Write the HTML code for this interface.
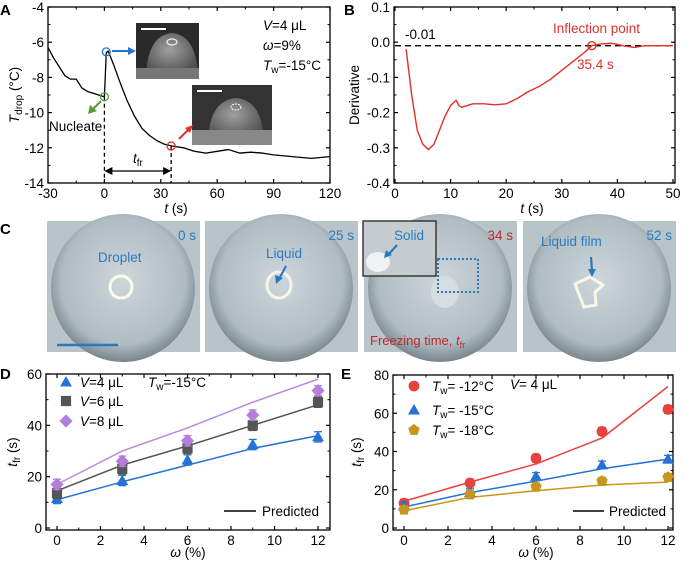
<!DOCTYPE html>
<html><head><meta charset="utf-8"><style>
body{margin:0;background:#fff;}
svg{display:block;font-family:"Liberation Sans",Arial,sans-serif;}
</style></head><body>
<svg id="fig" width="685" height="561" viewBox="0 0 685 561" xmlns="http://www.w3.org/2000/svg">
<defs>
<radialGradient id="drop" cx="50%" cy="45%" r="55%"><stop offset="0" stop-color="#cdd6db"/><stop offset="0.78" stop-color="#b0bcc3"/><stop offset="0.93" stop-color="#8a979e"/><stop offset="1" stop-color="#7a868c"/></radialGradient>
<radialGradient id="dome" cx="45%" cy="40%" r="60%"><stop offset="0" stop-color="#a0a0a0"/><stop offset="1" stop-color="#505050"/></radialGradient>
</defs>
<g id="layer"></g>
</svg>
<script>
// ---------- DATA ----------
const aTime=[-30,-27,-24,-21,-18,-15,-12,-9,-6,-3,0,1,2,5,8,12,16,20,24,28,32,36,42,48,54,60,66,72,78,84,90,100,110,120];
const aTemp=[-6.3,-6.9,-7.4,-7.9,-8.1,-8.1,-8.6,-8.8,-8.9,-9.0,-9.1,-6.6,-6.5,-7.3,-8.2,-9.3,-10.2,-10.9,-11.3,-11.6,-11.8,-11.9,-12.0,-12.2,-12.3,-12.2,-12.1,-12.3,-12.25,-12.3,-12.4,-12.5,-12.6,-12.5];
const aXTicks=[-30,0,30,60,90,120];
const aYTicks=[-4,-6,-8,-10,-12,-14];
const bTime=[2,3,4,5,6,7,8,9,10,11,11.5,12,14,16,18,20,22,24,26,28,30,32,34,35.4,37,39,41,43,45,50];
const bDeriv=[-0.02,-0.15,-0.25,-0.29,-0.305,-0.29,-0.25,-0.21,-0.18,-0.165,-0.18,-0.185,-0.175,-0.175,-0.178,-0.175,-0.16,-0.14,-0.125,-0.105,-0.08,-0.055,-0.03,-0.01,-0.005,-0.003,-0.01,-0.015,-0.01,-0.01];
const bXTicks=[0,10,20,30,40,50];
const bYTicks=[0.1,0.0,-0.1,-0.2,-0.3,-0.4];
const omega=[0,3,6,9,12];
const dV4=[11.5,18.5,26.5,32.5,35.5], dV4p=[11,18,24.5,31,36];
const dV6=[13.5,23,31,40,49], dV6p=[14.5,24.5,32,40,48];
const dV8=[17,26,34,44,53.5], dV8p=[17,30,39,49,58];
const eT12=[13,23.5,36.5,50.5,62], eT12p=[14,24,33.5,47,74];
const eT15=[11.5,18.5,27,33,36], eT15p=[11,18.5,24.5,31,36];
const eT18=[9.5,17.5,21.5,24.5,26.5], eT18p=[9,16,19.5,22.5,24];
const dYTicks=[0,20,40,60];
const eYTicks=[0,20,40,60,80];
const oTicks=[0,2,4,6,8,10,12];

// ---------- HELPERS ----------
const NS="http://www.w3.org/2000/svg";
const L=document.getElementById('layer');
function el(tag,attrs,parent,txt){const e=document.createElementNS(NS,tag);for(const k in attrs)e.setAttribute(k,attrs[k]);if(txt!==undefined)e.textContent=txt;(parent||L).appendChild(e);return e;}
function lin(d0,d1,p0,p1){return v=>p0+(v-d0)/(d1-d0)*(p1-p0);}
function frame(x0,y0,x1,y1,name){const r=el('rect',{x:x0,y:y0,width:x1-x0,height:y1-y0,fill:'none',stroke:'#000','stroke-width':1.3});

}
function xAxis(ticks,sx,yb,yt,name,minorStep){const g=el('g',{});


ticks.forEach(t=>{const x=sx(t);el('line',{x1:x,x2:x,y1:yb,y2:yb-4,stroke:'#000','stroke-width':1.2},g);el('line',{x1:x,x2:x,y1:yt,y2:yt+4,stroke:'#000','stroke-width':1.2},g);
const tx=el('text',{x:x,y:yb+15,'font-size':13.5,'text-anchor':'middle'},g,String(t));

});
if(minorStep){for(let i=0;i<ticks.length-1;i++){const m=(ticks[i]+ticks[i+1])/2;const x=sx(m);el('line',{x1:x,x2:x,y1:yb,y2:yb-2.5,stroke:'#000'},g);el('line',{x1:x,x2:x,y1:yt,y2:yt+2.5,stroke:'#000'},g);}}}
function yAxis(ticks,sy,xl,xr,name,fmt){const g=el('g',{});


ticks.forEach(t=>{const y=sy(t);el('line',{x1:xl,x2:xl+4,y1:y,y2:y,stroke:'#000','stroke-width':1.2},g);el('line',{x1:xr,x2:xr-4,y1:y,y2:y,stroke:'#000','stroke-width':1.2},g);
const tx=el('text',{x:xl-4,y:y+5,'font-size':13.5,'text-anchor':'end'},g,fmt?fmt(t):String(t));

});
for(let i=0;i<ticks.length-1;i++){const y=sy((ticks[i]+ticks[i+1])/2);el('line',{x1:xl,x2:xl+2.5,y1:y,y2:y,stroke:'#000'},g);el('line',{x1:xr,x2:xr-2.5,y1:y,y2:y,stroke:'#000'},g);}}
function poly(xs,ys,sx,sy,color,w,name){const p=el('polyline',{points:xs.map((x,i)=>sx(x)+','+sy(ys[i])).join(' '),fill:'none',stroke:color,'stroke-width':w,'stroke-linejoin':'round'});

}
function text(x,y,s,attrs,name){const t=el('text',Object.assign({x:x,y:y,'font-size':13.5},attrs||{}));t.innerHTML=s;

return t;}
function marker(type,cx,cy,color,r){r=r||6;if(type==='tri')return el('polygon',{points:`${cx},${cy-r} ${cx-r},${cy+r*0.75} ${cx+r},${cy+r*0.75}`,fill:color});
if(type==='sq')return el('rect',{x:cx-r*0.85,y:cy-r*0.85,width:r*1.7,height:r*1.7,fill:color});
if(type==='dia')return el('polygon',{points:`${cx},${cy-r*1.1} ${cx+r*1.1},${cy} ${cx},${cy+r*1.1} ${cx-r*1.1},${cy}`,fill:color});
if(type==='circ')return el('circle',{cx:cx,cy:cy,r:r*0.9,fill:color});
if(type==='pent'){let p=[];for(let k=0;k<5;k++){const a=-Math.PI/2+k*2*Math.PI/5;p.push((cx+r*Math.cos(a))+','+(cy+r*Math.sin(a)));}return el('polygon',{points:p.join(' '),fill:color});}}
function series(xs,ys,sx,sy,type,color,name){const g=el('g',{});


xs.forEach((x,i)=>{const px=sx(x),py=sy(ys[i]),e=sy(ys[i]-2)-py;
el('line',{x1:px,x2:px,y1:py-e,y2:py+e,stroke:color,'stroke-width':1.3},g);
el('line',{x1:px-4,x2:px+4,y1:py-e,y2:py-e,stroke:color,'stroke-width':1.3},g);
el('line',{x1:px-4,x2:px+4,y1:py+e,y2:py+e,stroke:color,'stroke-width':1.3},g);
const m=marker(type,px,py,color);g.appendChild(m);});}

// ---------- PANEL A ----------
const ax=lin(-30,120,48,330), ay=lin(-4,-14,7,183);
text(0,15,'A',{'font-weight':'bold','font-size':15},'panel-a-label');
text(263,30,'<tspan font-style="italic">V</tspan>=4 μL',{},'a-volume-label');
text(263,50,'<tspan font-style="italic">ω</tspan>=9%',{},'a-omega-label');
text(263,70,'<tspan font-style="italic">T</tspan><tspan font-size="10" dy="3">w</tspan><tspan dy="-3">=-15°C</tspan>',{},'a-tw-label');
el('rect',{x:136,y:23,width:63,height:56,fill:'#2a2a2a'});
el('path',{d:'M146 75 Q148 35 172 33 Q196 35 198 75 Z',fill:'url(#dome)'});
el('rect',{x:136,y:68,width:63,height:11,fill:'#777'});
el('ellipse',{cx:172,cy:42,rx:5,ry:3,fill:'none',stroke:'#eee','stroke-width':1.2});
el('line',{x1:141,x2:166,y1:29,y2:29,stroke:'#fff','stroke-width':2});
el('rect',{x:192,y:85,width:80,height:60,fill:'#333'});
el('path',{d:'M208 140 Q210 100 236 98 Q262 100 264 140 Z',fill:'url(#dome)'});
el('rect',{x:192,y:130,width:80,height:15,fill:'#888'});
el('ellipse',{cx:236,cy:107,rx:5,ry:3,fill:'none',stroke:'#eee','stroke-width':1.2,'stroke-dasharray':'2 1'});
el('line',{x1:197,x2:222,y1:91,y2:91,stroke:'#fff','stroke-width':2});
frame(48,7,330,183,'a-plot-frame');
xAxis(aXTicks,ax,183,7,'a-x-axis',true);
yAxis(aYTicks,ay,48,330,'a-y-axis');
poly(aTime,aTemp,ax,ay,'#000',1.3,'a-temperature-curve');
text(176,213,'<tspan font-style="italic">t</tspan> (s)',{'text-anchor':'middle'},'a-x-axis-title');
text(0,0,'<tspan font-style="italic">T</tspan><tspan font-size="10" dy="3">drop</tspan><tspan dy="-3"> (°C)</tspan>',{'text-anchor':'middle',transform:'translate(19,95) rotate(-90)'},'a-y-axis-title');
el('line',{x1:ax(0),x2:ax(0),y1:ay(-9.1),y2:183,stroke:'#000','stroke-width':1.3,'stroke-dasharray':'4 3'});
el('line',{x1:ax(35.5),x2:ax(35.5),y1:ay(-11.9),y2:183,stroke:'#000','stroke-width':1.3,'stroke-dasharray':'4 3'});
el('line',{x1:ax(0)+6,x2:ax(35.5)-6,y1:171,y2:171,stroke:'#000','stroke-width':1.2});
el('polygon',{points:`${ax(0)},171 ${ax(0)+8},167 ${ax(0)+8},175`});
el('polygon',{points:`${ax(35.5)},171 ${ax(35.5)-8},167 ${ax(35.5)-8},175`});
text(133,163,'<tspan font-style="italic">t</tspan><tspan font-size="10" dy="3">fr</tspan>',{},'tfr-label');
el('circle',{cx:ax(0),cy:ay(-9.1),r:4,fill:'none',stroke:'#5a9a3a','stroke-width':1.3});
el('circle',{cx:ax(1),cy:ay(-6.55),r:4,fill:'none',stroke:'#2673d8','stroke-width':1.3});
el('circle',{cx:ax(35.5),cy:ay(-11.9),r:4,fill:'none',stroke:'#e0302a','stroke-width':1.3});
el('line',{x1:101,x2:92,y1:101,y2:110,stroke:'#5a9a3a','stroke-width':2});
el('polygon',{points:'88,114 90,105 97,111',fill:'#5a9a3a'});
el('line',{x1:112,x2:130,y1:51,y2:51,stroke:'#2673d8','stroke-width':2});
el('polygon',{points:'136,51 128,47 128,55',fill:'#2673d8'});
el('line',{x1:179,x2:189,y1:139,y2:129,stroke:'#e0302a','stroke-width':2});
el('polygon',{points:'193,125 185,128 190,133',fill:'#e0302a'});
text(49,131,'Nucleate',{},'nucleate-label');

// ---------- PANEL B ----------
const bx=lin(0,50,395,673), by=lin(0.1,-0.4,7,183);
text(344,15,'B',{'font-weight':'bold','font-size':15},'panel-b-label');
frame(394,7,675,183,'b-plot-frame');
xAxis(bXTicks,bx,183,7,'b-x-axis',true);
yAxis(bYTicks,by,394,675,'b-y-axis',t=>t.toFixed(1));
el('line',{x1:bx(0),x2:bx(50),y1:by(-0.01),y2:by(-0.01),stroke:'#000','stroke-width':1.4,'stroke-dasharray':'6 4'});
poly(bTime,bDeriv,bx,by,'#e0302a',1.4,'b-derivative-curve');
el('circle',{cx:bx(35.4),cy:by(-0.01),r:4,fill:'none',stroke:'#e0302a','stroke-width':1.4});
text(405,39,'-0.01',{},'b-threshold-label');
text(553,33,'Inflection point',{fill:'#e0302a'},'inflection-label');
text(577,69,'35.4 s',{fill:'#e0302a'},'inflection-time-label');
text(532,213,'<tspan font-style="italic">t</tspan> (s)',{'text-anchor':'middle'},'b-x-axis-title');
text(0,0,'Derivative',{'text-anchor':'middle',transform:'translate(359,95) rotate(-90)'},'b-y-axis-title');

// ---------- PANEL C ----------
text(0,234,'C',{'font-weight':'bold','font-size':15},'panel-c-label');
const imgX=[47,205,364,523];
const imgTimes=['0 s','25 s','34 s','52 s'];
imgX.forEach((x,i)=>{const g=el('g',{});


el('rect',{x:x,y:221,width:153,height:131,fill:'#b9c4c9'},g);
el('ellipse',{cx:x+76,cy:288,rx:72,ry:74,fill:'url(#drop)'},g);
el('text',{x:x+149,y:240,'font-size':13.5,'text-anchor':'end',fill:i===2?'#c0282a':'#2a7ac0'},g,imgTimes[i]);});
el('line',{x1:57,x2:118,y1:345,y2:345,stroke:'#2a7ac0','stroke-width':2.5});
text(98,262,'Droplet',{fill:'#2a7ac0'},'droplet-label');
el('circle',{cx:121,cy:287,r:11,fill:'none',stroke:'#fbfbe8','stroke-width':3});
text(266,258,'Liquid',{fill:'#2a7ac0'},'liquid-label');
el('ellipse',{cx:279,cy:285,rx:12,ry:13,fill:'none',stroke:'#f5f5e8','stroke-width':3});
el('line',{x1:286,x2:279,y1:266,y2:279,stroke:'#2a7ac0','stroke-width':2.2});
el('polygon',{points:'276,284 275,275 283,278',fill:'#2a7ac0'});
el('rect',{x:363,y:221,width:73,height:55,fill:'#c4cccf',stroke:'#222','stroke-width':1.3});
el('ellipse',{cx:378,cy:262,rx:12,ry:10,fill:'#eef2f4'});
text(394,240,'Solid',{fill:'#2a7ac0'},'solid-label');
el('line',{x1:397,x2:388,y1:245,y2:255,stroke:'#2a7ac0','stroke-width':2.2});
el('polygon',{points:'384,258 386,250 392,255',fill:'#2a7ac0'});
el('ellipse',{cx:445,cy:292,rx:14,ry:16,fill:'#d6dde0'});
el('rect',{x:438,y:259,width:40,height:33,fill:'none',stroke:'#2a7ac0','stroke-width':2,'stroke-dasharray':'2 2'});
text(370,345,'Freezing time, <tspan font-style="italic">t</tspan><tspan font-size="9" dy="3">fr</tspan>',{fill:'#c0282a','font-size':13},'freezing-time-label');
text(541,246,'Liquid film',{fill:'#2a7ac0'},'liquid-film-label');
el('polygon',{points:'575,284 590,277 603,285 595,292 596,305 584,307',fill:'none',stroke:'#f8f8e8','stroke-width':3});
el('line',{x1:591,x2:592,y1:257,y2:271,stroke:'#2a7ac0','stroke-width':2.2});
el('polygon',{points:'592,277 588,269 596,269',fill:'#2a7ac0'});

// ---------- PANEL D ----------
const dx=lin(0,12,57,318), dy=lin(60,0,374,528);
text(0,379,'D',{'font-weight':'bold','font-size':15},'panel-d-label');
frame(46,374,330,530,'d-plot-frame');
xAxis(oTicks,dx,530,374,'d-x-axis',true);
yAxis(dYTicks,dy,46,330,'d-y-axis');
poly(omega,dV4p,dx,dy,'#2673d8',1.5,'d-v4-predicted');
poly(omega,dV6p,dx,dy,'#555',1.5,'d-v6-predicted');
poly(omega,dV8p,dx,dy,'#b58be0',1.5,'d-v8-predicted');
series(omega,dV4,dx,dy,'tri','#2673d8','d-v4-measured');
series(omega,dV6,dx,dy,'sq','#555','d-v6-measured');
series(omega,dV8,dx,dy,'dia','#b37fdb','d-v8-measured');
[['tri','#2673d8',382,'4'],['sq','#555',401,'6'],['dia','#b37fdb',421,'8']].forEach(l=>{marker(l[0],66,l[2],l[1]);
text(80,l[2]+5,'<tspan font-style="italic">V</tspan>='+l[3]+' μL',{},'d-legend-v'+l[3]);});
text(148,387,'<tspan font-style="italic">T</tspan><tspan font-size="10" dy="3">w</tspan><tspan dy="-3">=-15°C</tspan>',{},'d-tw-label');
el('line',{x1:224,x2:256,y1:511,y2:511,stroke:'#000','stroke-width':1.5});
text(262,516,'Predicted',{},'d-legend-predicted');
text(188,557,'<tspan font-style="italic">ω</tspan> (%)',{'text-anchor':'middle'},'d-x-axis-title');
text(0,0,'<tspan font-style="italic">t</tspan><tspan font-size="10" dy="3">fr</tspan><tspan dy="-3"> (s)</tspan>',{'text-anchor':'middle',transform:'translate(17,452) rotate(-90)'},'d-y-axis-title');

// ---------- PANEL E ----------
const ex=lin(0,12,404,668), ey=lin(80,0,375,528);
text(341,379,'E',{'font-weight':'bold','font-size':15},'panel-e-label');
frame(393,375,673,530,'e-plot-frame');
xAxis(oTicks,ex,530,375,'e-x-axis',true);
yAxis(eYTicks,ey,393,673,'e-y-axis');
poly(omega,eT12p,ex,ey,'#e8413e',1.5,'e-tw12-predicted');
poly(omega,eT15p,ex,ey,'#2673d8',1.5,'e-tw15-predicted');
poly(omega,eT18p,ex,ey,'#c8961a',1.5,'e-tw18-predicted');
series(omega,eT12,ex,ey,'circ','#e8413e','e-tw12-measured');
series(omega,eT15,ex,ey,'tri','#2673d8','e-tw15-measured');
series(omega,eT18,ex,ey,'pent','#c8961a','e-tw18-measured');
[['circ','#e8413e',386,'-12'],['tri','#2673d8',410,'-15'],['pent','#c8961a',430,'-18']].forEach(l=>{marker(l[0],414,l[2],l[1]);
text(432,l[2]+5,'<tspan font-style="italic">T</tspan><tspan font-size="10" dy="3">w</tspan><tspan dy="-3">= '+l[3]+'°C</tspan>',{},'e-legend-tw'+l[3]);});
text(510,389,'<tspan font-style="italic">V</tspan>= 4 μL',{},'e-volume-label');
el('line',{x1:573,x2:604,y1:511,y2:511,stroke:'#000','stroke-width':1.5});
text(609,516,'Predicted',{},'e-legend-predicted');
text(536,557,'<tspan font-style="italic">ω</tspan> (%)',{'text-anchor':'middle'},'e-x-axis-title');
text(0,0,'<tspan font-style="italic">t</tspan><tspan font-size="10" dy="3">fr</tspan><tspan dy="-3"> (s)</tspan>',{'text-anchor':'middle',transform:'translate(361,452) rotate(-90)'},'e-y-axis-title');
</script>
</body></html>
